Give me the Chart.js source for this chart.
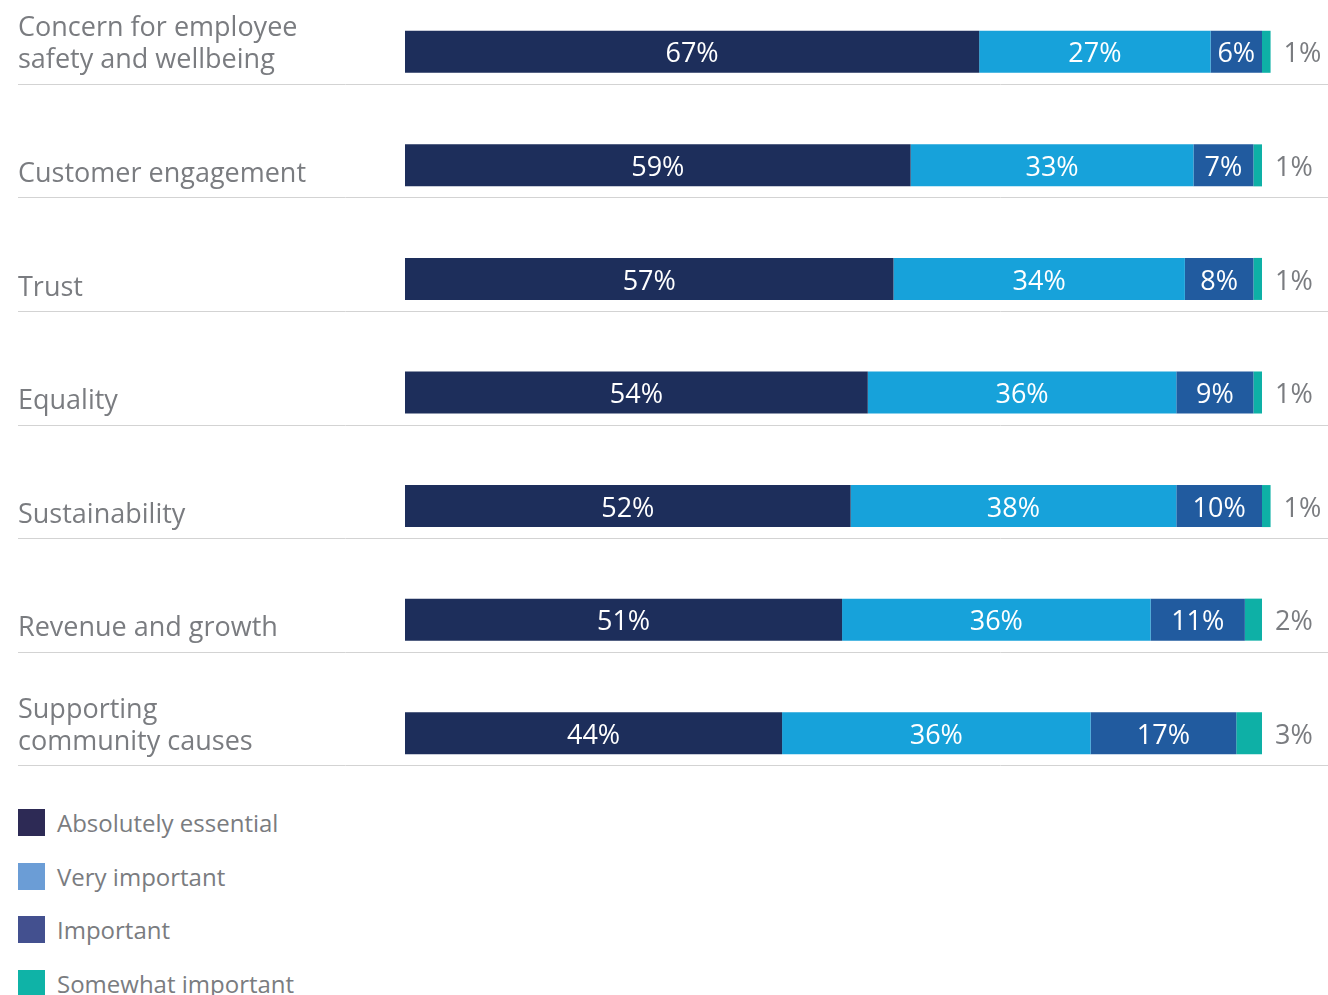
<!DOCTYPE html>
<html>
<head>
<meta charset="utf-8">
<script src="https://cdn.jsdelivr.net/npm/chart.js@4"></script>
<style>
  html, body { margin: 0; padding: 0; background: #fff; }
  body { width: 1328px; height: 995px; position: relative; overflow: hidden; font-family: "Open Sans", sans-serif; }
  #wrap { position: absolute; left: 0; top: -5px; width: 1328px; height: 795px; }
  #legend { position: absolute; left: 18px; top: 809px; }
  .item { display: flex; align-items: center; height: 27px; margin-bottom: 26.5px; color: #7a7c80; font-size: 24px; }
  .sw { width: 27px; height: 27px; margin-right: 12px; }
</style>
</head>
<body>
<div id="wrap"><canvas id="chart"></canvas></div>
<div id="legend"></div>
<script>
// categorias y valores (en %)
const categories = [
    ['Concern for employee', 'safety and wellbeing'],
    ['Customer engagement'],
    ['Trust'],
    ['Equality'],
    ['Sustainability'],
    ['Revenue and growth'],
    ['Supporting', 'community causes']
];
const absolutelyEssential = [67, 59, 57, 54, 52, 51, 44];
const veryImportant       = [27, 33, 34, 36, 38, 36, 36];
const important           = [6, 7, 8, 9, 10, 11, 17];
const somewhatImportant   = [1, 1, 1, 1, 1, 2, 3];
const seriesNames = ['Absolutely essential', 'Very important', 'Important', 'Somewhat important'];

const barColors = ['#1d2e5b', '#17a2da', '#215b9f', '#0eb0a6'];
const legendColors = ['#2d2a55', '#6b9dd6', '#43508f', '#0fb3a7'];
const textGray = '#7a7c80';

// Dibuja etiquetas de categoria, separadores y valores
const labelsPlugin = {
    id: 'labels',
    afterDatasetsDraw(chart) {
        const ctx = chart.ctx;
        const yScale = chart.scales.y;
        ctx.save();
        // categorias + lineas
        categories.forEach((lines, i) => {
            const cy = yScale.getPixelForValue(i);
            ctx.strokeStyle = '#d3d3d3';
            ctx.lineWidth = 1;
            ctx.beginPath();
            ctx.moveTo(18, Math.round(cy + 32) + 0.5);
            ctx.lineTo(1328, Math.round(cy + 32) + 0.5);
            ctx.stroke();

            ctx.fillStyle = textGray;
            ctx.font = '27px "Open Sans", sans-serif';
            ctx.textAlign = 'left';
            ctx.textBaseline = 'middle';
            lines.forEach((t, j) => {
                const y = cy + 9 - (lines.length - 1 - j) * 32;
                ctx.fillText(t, 18, y);
            });
        });
        // valores
        const last = chart.data.datasets.length - 1;
        chart.data.datasets.forEach((ds, di) => {
            const meta = chart.getDatasetMeta(di);
            meta.data.forEach((bar, i) => {
                const v = ds.data[i];
                ctx.font = '27px "Open Sans", sans-serif';
                ctx.textBaseline = 'middle';
                if (di === last) {
                    ctx.fillStyle = textGray;
                    ctx.textAlign = 'left';
                    ctx.fillText(v + '%', bar.x + 13, bar.y + 3);
                } else {
                    ctx.fillStyle = '#ffffff';
                    ctx.textAlign = 'center';
                    ctx.fillText(v + '%', (bar.base + bar.x) / 2, bar.y + 3);
                }
            });
        });
        ctx.restore();
    }
};

const datasets = [absolutelyEssential, veryImportant, important, somewhatImportant].map((d, i) => ({
    label: seriesNames[i],
    data: d,
    backgroundColor: barColors[i],
    borderWidth: 0,
    barPercentage: 0.37,
    categoryPercentage: 1,
    clip: false
}));

const chart = new Chart(document.getElementById('chart'), {
    type: 'bar',
    data: { labels: categories.map(c => c.join(' ')), datasets: datasets },
    options: {
        indexAxis: 'y',
        responsive: true,
        maintainAspectRatio: false,
        animation: false,
        layout: { padding: { left: 405, right: 66, top: 0, bottom: 0 } },
        plugins: { legend: { display: false }, tooltip: { enabled: false } },
        scales: {
            x: { stacked: true, min: 0, max: 100, display: false },
            y: { stacked: true, display: false }
        }
    },
    plugins: [labelsPlugin]
});

// leyenda vertical
document.getElementById('legend').innerHTML = seriesNames
    .map((n, i) => `<div class="item"><div class="sw" style="background:${legendColors[i]}"></div>${n}</div>`)
    .join('');
</script>
</body>
</html>
